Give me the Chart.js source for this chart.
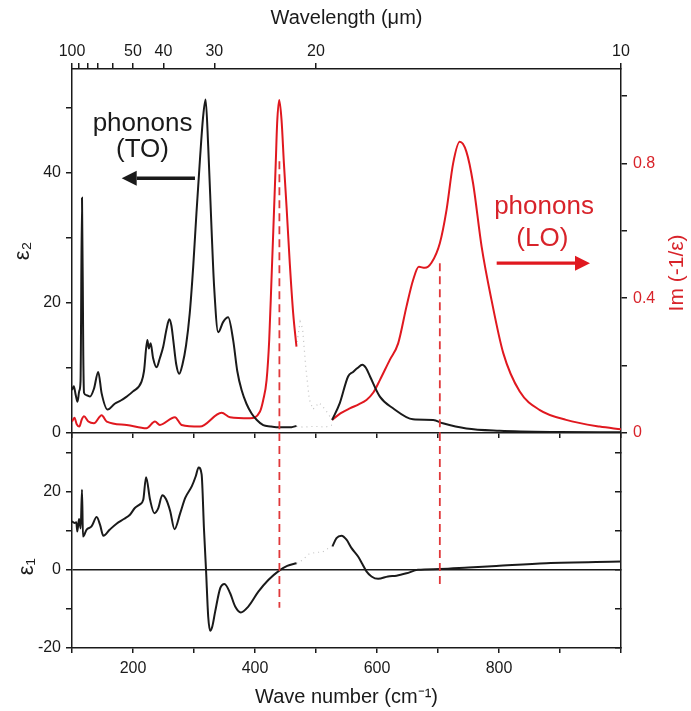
<!DOCTYPE html>
<html>
<head>
<meta charset="utf-8">
<title>Dielectric function and loss function</title>
<script src="https://cdn.jsdelivr.net/npm/chart.js@4.4.1/dist/chart.umd.min.js"></script>
<style>
  body { margin: 0; background: #fff; }
  #wrap { position: relative; width: 691px; height: 711px; }
  #wrap canvas { position: absolute; left: 0; }
  #topChart { top: 0; }
  #bottomChart { top: 433px; }
</style>
</head>
<body>
<div id="wrap">
  <canvas id="topChart" width="691" height="440"></canvas>
  <canvas id="bottomChart" width="691" height="278"></canvas>
</div>
<script>
// eps2 (imaginary part), below and above the gap in the measured range
const eps2WnA = [100, 103, 106, 109, 112, 114, 116.4, 118.5, 119.7, 124, 129.5, 136, 143, 148.6, 158.4, 170, 180, 189.6, 200, 214, 218, 223.5, 226, 228.9, 233, 238.7, 244, 249.6, 255, 259.5, 263, 266, 271, 275.8, 281, 287, 293, 298.7, 304, 309.7, 315, 319, 323.3, 328.8, 333, 339.7, 347.9, 356, 364.2, 371, 378, 386, 394.4, 403, 413.5, 425, 435.3, 450, 460, 468];
const eps2A   = [6.6, 7.2, 5.9, 4.8, 6.5, 8, 36.2, 12, 6.2, 5.8, 5.6, 6.8, 9.4, 6.1, 3.6, 4.5, 5.0, 5.6, 6.4, 7.9, 9.5, 14.3, 13.0, 13.8, 11.5, 10.1, 11.5, 13.3, 16, 17.5, 16.5, 14.3, 10.5, 9.1, 10.5, 13.5, 18.4, 25.6, 33.8, 42, 48.7, 51.3, 44.1, 31.3, 22.5, 15.5, 17.1, 17.8, 14.3, 9.5, 6.6, 4.5, 3.0, 2.0, 1.2, 1.0, 0.9, 0.9, 0.9, 1.1];
const eps2WnB = [526.4, 539, 552.6, 560.8, 568, 576, 582, 588.6, 604.7, 626.3, 659, 692, 708, 746.5, 801, 899, 1000];
const eps2B   = [2.0, 4.6, 8.7, 9.4, 10.0, 10.5, 10.0, 8.7, 5.6, 3.8, 2.1, 2.0, 1.5, 0.7, 0.35, 0.15, 0.1];

// Im(-1/eps) loss function
const lossWnA = [100, 104, 108, 112, 116, 119.6, 126.8, 136, 148.6, 157, 189.6, 222, 236, 244, 268.7, 279.7, 309.7, 345.2, 359, 392, 408, 413.5, 419, 423.3, 427, 430, 434, 436.3, 439.7, 443.5, 447.4, 451.7, 457, 462.6, 468];
const lossA   = [0.034, 0.045, 0.025, 0.019, 0.04, 0.05, 0.034, 0.029, 0.053, 0.034, 0.024, 0.014, 0.034, 0.024, 0.047, 0.024, 0.019, 0.06, 0.047, 0.044, 0.063, 0.098, 0.157, 0.276, 0.454, 0.60, 0.80, 0.919, 0.988, 0.929, 0.80, 0.672, 0.504, 0.355, 0.256];
const lossWnB = [526.4, 540, 555.4, 570, 582.7, 594, 604.7, 621, 634.7, 648.3, 659.2, 668.6, 678.4, 689.3, 703, 714, 724.8, 735.6, 746.5, 757.5, 771.5, 787.7, 807, 834, 867, 910, 965, 1000];
const lossB   = [0.039, 0.058, 0.073, 0.085, 0.098, 0.12, 0.157, 0.217, 0.266, 0.375, 0.454, 0.493, 0.49, 0.505, 0.563, 0.662, 0.80, 0.864, 0.835, 0.741, 0.553, 0.395, 0.237, 0.123, 0.068, 0.039, 0.019, 0.011];

// eps1 (real part)
const eps1WnA = [100, 104, 107, 108.7, 111.5, 114.2, 116.4, 118, 124, 132, 140.5, 146, 151.4, 162, 173, 185, 195, 203, 211, 216.8, 221.4, 228, 235, 241.5, 248, 254, 261, 268, 277.4, 285.6, 296.5, 303, 307.5, 312.5, 316.4, 319.7, 323.3, 326.5, 330, 334.7, 343, 350, 359.3, 367.5, 376.7, 389, 405.5, 421.8, 439.7, 452.8, 468];
const eps1A   = [12.4, 12.0, 12.2, 9.8, 13.0, 10.6, 20.5, 8.5, 10.3, 11.1, 13.5, 11.5, 8.7, 10.3, 11.8, 13.0, 14.1, 15.8, 16.7, 17.9, 23.7, 17.9, 14.5, 15.8, 19.1, 18.1, 15.0, 10.4, 14.5, 18.4, 21.4, 24.0, 26.2, 24.4, 10.3, 0, -12, -15.6, -14.5, -10.7, -4.7, -3.6, -6.0, -9.4, -10.9, -9.4, -5.6, -2.6, -0.2, 1.0, 1.7];
const eps1WnB = [527, 533.6, 541.8, 550, 558, 569, 576, 582.7, 591, 601.9, 618, 632, 648.3, 667, 703, 750, 795.6, 877.5, 1000];
const eps1B   = [6.0, 8.1, 8.7, 7.7, 5.6, 3.4, 1.5, -0.4, -1.7, -2.3, -1.7, -1.5, -0.9, 0, 0.2, 0.6, 1.0, 1.7, 2.1];

// faint points inside the gap (468-527 cm-1)
const gapWnLoss = [469, 474, 478, 483, 489, 495, 505, 515, 526];
const gapLoss   = [0.27, 0.33, 0.31, 0.2, 0.1, 0.07, 0.09, 0.07, 0.04];
const gapWnEps2 = [468, 480, 492, 505, 515, 526];
const gapEps2   = [1.0, 0.9, 1.0, 1.0, 0.9, 1.2];
const gapWnEps1 = [468, 478, 488, 500, 510, 520, 527];
const gapEps1   = [1.7, 2.5, 4.0, 4.5, 4.5, 5.5, 6.0];

// TO/LO markers: [wave number, upper end, lower end on eps1]
const markerWn = [440, 703];
const markerTopEps2 = 41.8;     // first marker starts on the eps2 scale
const markerTopLoss = 0.504;    // second marker starts on the loss scale
const markerLowEps1 = [-9.7, -4.9];

// top axis: wavelength in micrometres
const wavelengthTicks = [100, 90, 80, 70, 60, 50, 40, 30, 20, 10];
const wavelengthLabels = [100, 50, 40, 30, 20, 10];

const FONT = '"Liberation Sans", Arial, sans-serif';
const INK = '#1a1a1a';
const RED = '#e0181f';
const RED_TEXT = '#d8232a';
const DASH_RED = '#e0383a';

const pts = (xs, ys) => xs.map((x, i) => ({ x: x, y: ys[i] }));

// draws the free text, arrows and rotated titles
const panelText = {
  id: 'panelText',
  afterDatasetsDraw(chart, args, opts) {
    const ctx = chart.ctx;
    const xs = chart.scales.x;
    const area = chart.chartArea;
    (opts.items || []).forEach(item => {
      const ys = chart.scales[item.axis];
      ctx.save();
      ctx.fillStyle = item.color;
      ctx.strokeStyle = item.color;
      if (item.kind === 'text') {
        ctx.font = item.size + 'px ' + FONT;
        ctx.textAlign = 'center';
        ctx.textBaseline = 'middle';
        ctx.fillText(item.text, xs.getPixelForValue(item.x), ys.getPixelForValue(item.y));
      } else if (item.kind === 'arrow') {
        const x1 = xs.getPixelForValue(item.from);
        const x2 = xs.getPixelForValue(item.to);
        const y = ys.getPixelForValue(item.y);
        const dir = Math.sign(x2 - x1);
        const head = 15, half = 7.5;
        ctx.lineWidth = 3.4;
        ctx.beginPath();
        ctx.moveTo(x1, y);
        ctx.lineTo(x2 - dir * head, y);
        ctx.stroke();
        ctx.beginPath();
        ctx.moveTo(x2, y);
        ctx.lineTo(x2 - dir * head, y - half);
        ctx.lineTo(x2 - dir * head, y + half);
        ctx.closePath();
        ctx.fill();
      } else if (item.kind === 'vtitle') {
        const x = item.side === 'right' ? area.right + item.offset : area.left - item.offset;
        ctx.font = item.size + 'px ' + FONT;
        ctx.textAlign = 'center';
        ctx.textBaseline = 'middle';
        ctx.translate(x, ys.getPixelForValue(item.y));
        ctx.rotate(-Math.PI / 2);
        ctx.fillText(item.text, 0, 0);
      }
      ctx.restore();
    });
  }
};

// fixed axis boxes, without the extra room chart.js keeps for edge labels
function fixBox(w, h) {
  return s => {
    if (w !== null) s.width = w;
    if (h !== null) s.height = h;
    s.paddingTop = 0;
    s.paddingBottom = 0;
    s.paddingLeft = 0;
    s.paddingRight = 0;
  };
}

const tickFont = { family: FONT, size: 16 };
const frameGrid = { drawOnChartArea: false, color: INK, lineWidth: 1.5, tickLength: 6 };
const frameBorder = { color: INK, width: 1.5 };
const base = {
  responsive: false,
  animation: false,
  devicePixelRatio: 1,
  layout: { padding: 0 },
  elements: {
    point: { radius: 0 },
    line: { borderWidth: 2, cubicInterpolationMode: 'monotone', fill: false }
  }
};

function curve(data, color, axis) {
  return { data: data, yAxisID: axis, borderColor: color, borderWidth: 2 };
}
function dots(data, axis) {
  return { data: data, yAxisID: axis, borderColor: 'rgba(120,120,120,0.45)', borderWidth: 1.2, borderDash: [1, 4], cubicInterpolationMode: 'default', tension: 0 };
}
function marker(data, axis) {
  return { data: data, yAxisID: axis, borderColor: DASH_RED, borderWidth: 1.8, borderDash: [8, 5], cubicInterpolationMode: 'default', tension: 0 };
}

new Chart(document.getElementById('topChart'), {
  type: 'line',
  data: {
    datasets: [
      marker([{ x: markerWn[0], y: markerTopEps2 }, { x: markerWn[0], y: 0 }], 'y'),
      marker([{ x: markerWn[1], y: markerTopLoss }, { x: markerWn[1], y: 0 }], 'yRed'),
      curve(pts(eps2WnA, eps2A), INK, 'y'),
      curve(pts(eps2WnB, eps2B), INK, 'y'),
      curve(pts(lossWnA, lossA), RED, 'yRed'),
      curve(pts(lossWnB, lossB), RED, 'yRed'),
      dots(pts(gapWnLoss, gapLoss), 'yRed'),
      dots(pts(gapWnEps2, gapEps2), 'y')
    ]
  },
  options: Object.assign({}, base, {
    plugins: {
      legend: { display: false },
      tooltip: { enabled: false },
      panelText: {
        items: [
          { kind: 'text', text: 'phonons', x: 215.6, y: 47.5, axis: 'y', color: INK, size: 26 },
          { kind: 'text', text: '(TO)', x: 215.6, y: 43.5, axis: 'y', color: INK, size: 26 },
          { kind: 'arrow', from: 301.6, to: 181.5, y: 39.2, axis: 'y', color: INK },
          { kind: 'text', text: 'phonons', x: 873.8, y: 0.671, axis: 'yRed', color: RED_TEXT, size: 26 },
          { kind: 'text', text: '(LO)', x: 871, y: 0.576, axis: 'yRed', color: RED_TEXT, size: 26 },
          { kind: 'arrow', from: 796.2, to: 949.2, y: 0.504, axis: 'yRed', color: RED },
          { kind: 'vtitle', text: 'Im (-1/ε)', side: 'right', offset: 56, y: 0.475, axis: 'yRed', color: RED_TEXT, size: 21 }
        ]
      }
    },
    scales: {
      x: {
        type: 'linear', position: 'bottom', min: 100, max: 1000,
        ticks: { display: false, stepSize: 100 },
        grid: Object.assign({}, frameGrid, { tickLength: 5 }),
        border: frameBorder,
        afterFit: fixBox(null, 7)
      },
      xTop: {
        type: 'linear', position: 'top', min: 100, max: 1000,
        afterBuildTicks: s => { s.ticks = wavelengthTicks.map(l => ({ value: 10000 / l })); },
        ticks: {
          font: tickFont, color: INK, padding: 2, maxRotation: 0, autoSkip: false,
          callback: v => {
            const lam = Math.round(10000 / v);
            return wavelengthLabels.includes(lam) ? String(lam) : '';
          }
        },
        grid: frameGrid,
        border: frameBorder,
        title: { display: true, text: 'Wavelength (μm)', color: INK, font: { family: FONT, size: 20 }, padding: { top: 6, bottom: 0 } },
        afterFit: fixBox(null, 69)
      },
      y: {
        position: 'left', min: 0, max: 56,
        ticks: {
          font: tickFont, color: INK, padding: 5, stepSize: 10, includeBounds: false,
          callback: v => (v % 20 === 0 ? String(v) : '')
        },
        grid: frameGrid,
        border: frameBorder,
        title: { display: true, text: 'ε₂', color: INK, font: { family: FONT, size: 22 }, padding: { top: 10, bottom: 0 } },
        afterFit: fixBox(72, null)
      },
      yRed: {
        position: 'right', min: 0, max: 1.08,
        ticks: {
          font: tickFont, color: RED_TEXT, padding: 6, stepSize: 0.2, includeBounds: false,
          callback: v => {
            const r = Math.round(v * 10) / 10;
            return [0, 0.4, 0.8].includes(r) ? String(r) : '';
          }
        },
        grid: frameGrid,
        border: frameBorder,
        afterFit: fixBox(70, null)
      }
    }
  }),
  plugins: [panelText]
});

new Chart(document.getElementById('bottomChart'), {
  type: 'line',
  data: {
    datasets: [
      marker([{ x: markerWn[0], y: 35 }, { x: markerWn[0], y: markerLowEps1[0] }], 'y'),
      marker([{ x: markerWn[1], y: 35 }, { x: markerWn[1], y: markerLowEps1[1] }], 'y'),
      curve(pts(eps1WnA, eps1A), INK, 'y'),
      curve(pts(eps1WnB, eps1B), INK, 'y'),
      dots(pts(gapWnEps1, gapEps1), 'y')
    ]
  },
  options: Object.assign({}, base, {
    plugins: {
      legend: { display: false },
      tooltip: { enabled: false },
      panelText: {
        items: [
          { kind: 'vtitle', text: 'ε₁', side: 'left', offset: 45, y: 0.8, axis: 'y', color: INK, size: 22 }
        ]
      }
    },
    scales: {
      x: {
        type: 'linear', position: 'bottom', min: 100, max: 1000,
        ticks: {
          font: tickFont, color: INK, padding: 6, stepSize: 100, maxRotation: 0, autoSkip: false,
          callback: v => (v % 200 === 0 && v < 1000 ? String(v) : '')
        },
        grid: Object.assign({}, frameGrid, { tickLength: 5 }),
        border: frameBorder,
        title: { display: true, text: 'Wave number (cm⁻¹)', color: INK, font: { family: FONT, size: 20 }, padding: { top: 0, bottom: 2 } },
        afterFit: fixBox(null, 63)
      },
      y: {
        position: 'left', min: -20, max: 35,
        ticks: {
          font: tickFont, color: INK, padding: 5, stepSize: 10, includeBounds: false,
          callback: v => (v % 20 === 0 ? String(v) : '')
        },
        grid: {
          drawOnChartArea: true, tickLength: 6, tickColor: INK, tickWidth: 1.5,
          color: c => (c.tick && c.tick.value === 0 ? INK : 'rgba(0,0,0,0)'),
          lineWidth: 1.5
        },
        border: frameBorder,
        afterFit: fixBox(72, null)
      },
      yR: {
        position: 'right', min: -20, max: 35,
        ticks: { display: false, stepSize: 10, includeBounds: false },
        grid: Object.assign({}, frameGrid, { tickLength: -6 }),
        border: frameBorder,
        afterFit: fixBox(70, null)
      }
    }
  }),
  plugins: [panelText]
});
</script>
</body>
</html>
